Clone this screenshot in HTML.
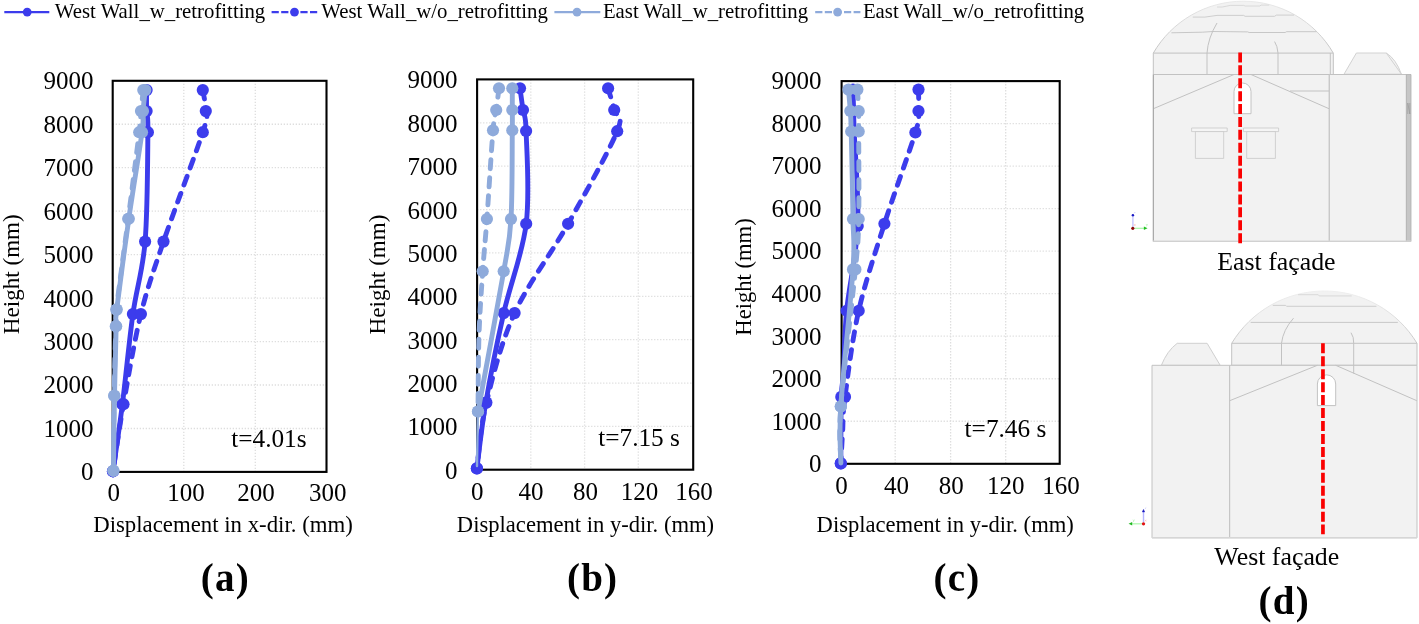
<!DOCTYPE html>
<html><head><meta charset="utf-8"><title>Figure</title>
<style>
html,body{margin:0;padding:0;background:#fff;}
body{width:1419px;height:624px;overflow:hidden;font-family:"Liberation Serif",serif;}
svg{display:block;position:absolute;left:0;top:0;will-change:transform;opacity:0.9999;}
svg text{font-family:"Liberation Serif",serif;fill:#000;}
</style></head><body>
<svg width="1419" height="624" viewBox="0 0 1419 624">
<rect width="1419" height="624" fill="#fff"/>
<g id="legend">
<line x1="4.3" y1="12.1" x2="49.3" y2="12.1" stroke="#3c3cec" stroke-width="2.4"/><circle cx="27.2" cy="12.1" r="4.4" fill="#3c3cec"/><text transform="translate(54.80 17.6) scale(1.035 1)" font-size="20.1">West Wall_w_retrofitting</text>
<line x1="271.6" y1="12.1" x2="317.2" y2="12.1" stroke="#3c3cec" stroke-width="2.4" stroke-dasharray="7.2 2.4"/><circle cx="294.5" cy="12.1" r="4.4" fill="#3c3cec"/><text transform="translate(321.30 17.6) scale(1.035 1)" font-size="20.1">West Wall_w/o_retrofitting</text>
<line x1="554.4" y1="12.1" x2="600.3" y2="12.1" stroke="#8eaadb" stroke-width="2.4"/><circle cx="577.0" cy="12.1" r="4.4" fill="#8eaadb"/><text transform="translate(602.90 17.6) scale(1.035 1)" font-size="20.1">East Wall_w_retrofitting</text>
<line x1="815.2" y1="12.1" x2="860.4" y2="12.1" stroke="#8eaadb" stroke-width="2.4" stroke-dasharray="7.2 2.4"/><circle cx="837.6" cy="12.1" r="4.4" fill="#8eaadb"/><text transform="translate(862.90 17.6) scale(1.035 1)" font-size="20.1">East Wall_w/o_retrofitting</text>
</g>
<g id="chart-a">
<line x1="183.80" y1="80.80" x2="183.80" y2="471.90" stroke="#dedede" stroke-width="1.3" stroke-dasharray="1.3 1.7"/>
<line x1="255.30" y1="80.80" x2="255.30" y2="471.90" stroke="#dedede" stroke-width="1.3" stroke-dasharray="1.3 1.7"/>
<line x1="112.70" y1="124.26" x2="326.50" y2="124.26" stroke="#dedede" stroke-width="1.3" stroke-dasharray="1.3 1.7"/>
<line x1="112.70" y1="167.72" x2="326.50" y2="167.72" stroke="#dedede" stroke-width="1.3" stroke-dasharray="1.3 1.7"/>
<line x1="112.70" y1="211.18" x2="326.50" y2="211.18" stroke="#dedede" stroke-width="1.3" stroke-dasharray="1.3 1.7"/>
<line x1="112.70" y1="254.64" x2="326.50" y2="254.64" stroke="#dedede" stroke-width="1.3" stroke-dasharray="1.3 1.7"/>
<line x1="112.70" y1="298.10" x2="326.50" y2="298.10" stroke="#dedede" stroke-width="1.3" stroke-dasharray="1.3 1.7"/>
<line x1="112.70" y1="341.56" x2="326.50" y2="341.56" stroke="#dedede" stroke-width="1.3" stroke-dasharray="1.3 1.7"/>
<line x1="112.70" y1="385.02" x2="326.50" y2="385.02" stroke="#dedede" stroke-width="1.3" stroke-dasharray="1.3 1.7"/>
<line x1="112.70" y1="428.48" x2="326.50" y2="428.48" stroke="#dedede" stroke-width="1.3" stroke-dasharray="1.3 1.7"/>
<rect x="112.70" y="80.80" width="213.80" height="391.10" fill="none" stroke="#000" stroke-width="2.1"/>
<text x="93.60" y="89.20" font-size="25.00" text-anchor="end" font-weight="normal">9000</text>
<text x="93.60" y="132.66" font-size="25.00" text-anchor="end" font-weight="normal">8000</text>
<text x="93.60" y="176.12" font-size="25.00" text-anchor="end" font-weight="normal">7000</text>
<text x="93.60" y="219.58" font-size="25.00" text-anchor="end" font-weight="normal">6000</text>
<text x="93.60" y="263.04" font-size="25.00" text-anchor="end" font-weight="normal">5000</text>
<text x="93.60" y="306.50" font-size="25.00" text-anchor="end" font-weight="normal">4000</text>
<text x="93.60" y="349.96" font-size="25.00" text-anchor="end" font-weight="normal">3000</text>
<text x="93.60" y="393.42" font-size="25.00" text-anchor="end" font-weight="normal">2000</text>
<text x="93.60" y="436.88" font-size="25.00" text-anchor="end" font-weight="normal">1000</text>
<text x="93.60" y="480.34" font-size="25.00" text-anchor="end" font-weight="normal">0</text>
<text x="113.70" y="500.70" font-size="25.00" text-anchor="middle" font-weight="normal">0</text>
<text x="186.00" y="500.70" font-size="25.00" text-anchor="middle" font-weight="normal">100</text>
<text x="256.10" y="500.70" font-size="25.00" text-anchor="middle" font-weight="normal">200</text>
<text x="327.70" y="500.70" font-size="25.00" text-anchor="middle" font-weight="normal">300</text>
<path d="M146.60 90.10 C146.60 93.60 146.38 104.08 146.60 111.10 C146.82 118.12 148.15 110.45 147.90 132.20 C147.65 153.95 147.60 211.28 145.10 241.60 C142.60 271.92 136.68 287.00 132.90 314.10 C129.12 341.20 125.72 378.00 122.40 404.20 C119.08 430.40 114.57 460.12 113.00 471.30" fill="none" stroke="#3c3cec" stroke-width="4.90" stroke-linecap="round" stroke-linejoin="round"/>
<circle cx="146.60" cy="90.10" r="6.10" fill="#3c3cec"/>
<circle cx="146.60" cy="111.10" r="6.10" fill="#3c3cec"/>
<circle cx="147.90" cy="132.20" r="6.10" fill="#3c3cec"/>
<circle cx="145.10" cy="241.60" r="6.10" fill="#3c3cec"/>
<circle cx="132.90" cy="314.10" r="6.10" fill="#3c3cec"/>
<circle cx="122.40" cy="404.20" r="6.10" fill="#3c3cec"/>
<circle cx="113.00" cy="471.30" r="6.10" fill="#3c3cec"/>
<path d="M202.80 90.10 C203.30 93.60 205.80 104.08 205.80 111.10 C205.80 118.12 209.85 110.45 202.80 132.20 C195.75 153.95 173.82 211.28 163.50 241.60 C153.18 271.92 147.57 287.00 140.90 314.10 C134.23 341.20 128.15 378.00 123.50 404.20 C118.85 430.40 114.75 460.12 113.00 471.30" fill="none" stroke="#3c3cec" stroke-width="4.90" stroke-linecap="round" stroke-linejoin="round" stroke-dasharray="9 9"/>
<circle cx="202.80" cy="90.10" r="6.10" fill="#3c3cec"/>
<circle cx="205.80" cy="111.10" r="6.10" fill="#3c3cec"/>
<circle cx="202.80" cy="132.20" r="6.10" fill="#3c3cec"/>
<circle cx="163.50" cy="241.60" r="6.10" fill="#3c3cec"/>
<circle cx="140.90" cy="314.10" r="6.10" fill="#3c3cec"/>
<circle cx="123.50" cy="404.20" r="6.10" fill="#3c3cec"/>
<circle cx="113.00" cy="471.30" r="6.10" fill="#3c3cec"/>
<path d="M145.30 90.10 C144.92 93.60 143.55 104.08 143.00 111.10 C142.45 118.12 144.37 114.25 142.00 132.20 C139.63 150.15 133.02 189.23 128.80 218.80 C124.58 248.37 118.80 291.70 116.70 309.60 C114.60 327.50 116.57 311.83 116.20 326.20 C115.83 340.57 114.97 371.70 114.50 395.80 C114.03 419.90 113.58 458.30 113.40 470.80" fill="none" stroke="#8eaadb" stroke-width="4.90" stroke-linecap="round" stroke-linejoin="round"/>
<circle cx="145.30" cy="90.10" r="6.10" fill="#8eaadb"/>
<circle cx="143.00" cy="111.10" r="6.10" fill="#8eaadb"/>
<circle cx="142.00" cy="132.20" r="6.10" fill="#8eaadb"/>
<circle cx="128.80" cy="218.80" r="6.10" fill="#8eaadb"/>
<circle cx="116.70" cy="309.60" r="6.10" fill="#8eaadb"/>
<circle cx="116.20" cy="326.20" r="6.10" fill="#8eaadb"/>
<circle cx="114.50" cy="395.80" r="6.10" fill="#8eaadb"/>
<circle cx="113.40" cy="470.80" r="6.10" fill="#8eaadb"/>
<path d="M143.30 90.10 C142.92 93.60 141.68 104.08 141.00 111.10 C140.32 118.12 141.33 114.25 139.20 132.20 C137.07 150.15 132.02 189.23 128.20 218.80 C124.38 248.37 118.37 291.70 116.30 309.60 C114.23 327.50 116.17 311.83 115.80 326.20 C115.43 340.57 114.50 371.70 114.10 395.80 C113.70 419.90 113.52 458.30 113.40 470.80" fill="none" stroke="#8eaadb" stroke-width="4.90" stroke-linecap="round" stroke-linejoin="round" stroke-dasharray="9 9"/>
<circle cx="143.30" cy="90.10" r="6.10" fill="#8eaadb"/>
<circle cx="141.00" cy="111.10" r="6.10" fill="#8eaadb"/>
<circle cx="139.20" cy="132.20" r="6.10" fill="#8eaadb"/>
<circle cx="128.20" cy="218.80" r="6.10" fill="#8eaadb"/>
<circle cx="116.30" cy="309.60" r="6.10" fill="#8eaadb"/>
<circle cx="115.80" cy="326.20" r="6.10" fill="#8eaadb"/>
<circle cx="114.10" cy="395.80" r="6.10" fill="#8eaadb"/>
<circle cx="113.40" cy="470.80" r="6.10" fill="#8eaadb"/>
<text x="231.20" y="447.10" font-size="25.30" text-anchor="start" font-weight="normal">t=4.01s</text>
<text x="223.00" y="531.70" font-size="22.80" text-anchor="middle" font-weight="normal">Displacement in x-dir. (mm)</text>
<text transform="translate(19.20 274.20) rotate(-90)" font-size="23.10" text-anchor="middle">Height (mm)</text>
<text x="225.30" y="591.30" font-size="39.00" text-anchor="middle" font-weight="bold" letter-spacing="1.2">(a)</text>
</g>
<g id="chart-b">
<line x1="530.80" y1="79.40" x2="530.80" y2="469.70" stroke="#dedede" stroke-width="1.3" stroke-dasharray="1.3 1.7"/>
<line x1="584.60" y1="79.40" x2="584.60" y2="469.70" stroke="#dedede" stroke-width="1.3" stroke-dasharray="1.3 1.7"/>
<line x1="638.30" y1="79.40" x2="638.30" y2="469.70" stroke="#dedede" stroke-width="1.3" stroke-dasharray="1.3 1.7"/>
<line x1="477.10" y1="122.78" x2="693.20" y2="122.78" stroke="#dedede" stroke-width="1.3" stroke-dasharray="1.3 1.7"/>
<line x1="477.10" y1="166.16" x2="693.20" y2="166.16" stroke="#dedede" stroke-width="1.3" stroke-dasharray="1.3 1.7"/>
<line x1="477.10" y1="209.54" x2="693.20" y2="209.54" stroke="#dedede" stroke-width="1.3" stroke-dasharray="1.3 1.7"/>
<line x1="477.10" y1="252.92" x2="693.20" y2="252.92" stroke="#dedede" stroke-width="1.3" stroke-dasharray="1.3 1.7"/>
<line x1="477.10" y1="296.30" x2="693.20" y2="296.30" stroke="#dedede" stroke-width="1.3" stroke-dasharray="1.3 1.7"/>
<line x1="477.10" y1="339.68" x2="693.20" y2="339.68" stroke="#dedede" stroke-width="1.3" stroke-dasharray="1.3 1.7"/>
<line x1="477.10" y1="383.06" x2="693.20" y2="383.06" stroke="#dedede" stroke-width="1.3" stroke-dasharray="1.3 1.7"/>
<line x1="477.10" y1="426.44" x2="693.20" y2="426.44" stroke="#dedede" stroke-width="1.3" stroke-dasharray="1.3 1.7"/>
<rect x="477.10" y="79.40" width="216.10" height="390.30" fill="none" stroke="#000" stroke-width="2.1"/>
<text x="457.60" y="88.40" font-size="25.00" text-anchor="end" font-weight="normal">9000</text>
<text x="457.60" y="131.78" font-size="25.00" text-anchor="end" font-weight="normal">8000</text>
<text x="457.60" y="175.16" font-size="25.00" text-anchor="end" font-weight="normal">7000</text>
<text x="457.60" y="218.54" font-size="25.00" text-anchor="end" font-weight="normal">6000</text>
<text x="457.60" y="261.92" font-size="25.00" text-anchor="end" font-weight="normal">5000</text>
<text x="457.60" y="305.30" font-size="25.00" text-anchor="end" font-weight="normal">4000</text>
<text x="457.60" y="348.68" font-size="25.00" text-anchor="end" font-weight="normal">3000</text>
<text x="457.60" y="392.06" font-size="25.00" text-anchor="end" font-weight="normal">2000</text>
<text x="457.60" y="435.44" font-size="25.00" text-anchor="end" font-weight="normal">1000</text>
<text x="457.60" y="478.82" font-size="25.00" text-anchor="end" font-weight="normal">0</text>
<text x="477.30" y="499.80" font-size="25.00" text-anchor="middle" font-weight="normal">0</text>
<text x="531.00" y="499.80" font-size="25.00" text-anchor="middle" font-weight="normal">40</text>
<text x="585.40" y="499.80" font-size="25.00" text-anchor="middle" font-weight="normal">80</text>
<text x="639.60" y="499.80" font-size="25.00" text-anchor="middle" font-weight="normal">120</text>
<text x="694.00" y="499.80" font-size="25.00" text-anchor="middle" font-weight="normal">160</text>
<path d="M520.00 88.30 C520.50 91.92 521.98 102.88 523.00 110.00 C524.02 117.12 525.57 112.03 526.10 131.00 C526.63 149.97 529.93 193.45 526.20 223.80 C522.47 254.15 510.43 283.30 503.70 313.10 C496.97 342.90 490.27 376.72 485.80 402.60 C481.33 428.48 478.38 457.43 476.90 468.40" fill="none" stroke="#3c3cec" stroke-width="4.90" stroke-linecap="round" stroke-linejoin="round"/>
<circle cx="520.00" cy="88.30" r="6.10" fill="#3c3cec"/>
<circle cx="523.00" cy="110.00" r="6.10" fill="#3c3cec"/>
<circle cx="526.10" cy="131.00" r="6.10" fill="#3c3cec"/>
<circle cx="526.20" cy="223.80" r="6.10" fill="#3c3cec"/>
<circle cx="503.70" cy="313.10" r="6.10" fill="#3c3cec"/>
<circle cx="485.80" cy="402.60" r="6.10" fill="#3c3cec"/>
<circle cx="476.90" cy="468.40" r="6.10" fill="#3c3cec"/>
<path d="M608.10 88.30 C609.12 91.92 612.68 102.85 614.20 110.00 C615.72 117.15 624.88 112.23 617.20 131.20 C609.52 150.17 585.20 193.48 568.10 223.80 C551.00 254.12 528.22 283.30 514.60 313.10 C500.98 342.90 492.68 376.72 486.40 402.60 C480.12 428.48 478.48 457.43 476.90 468.40" fill="none" stroke="#3c3cec" stroke-width="4.90" stroke-linecap="round" stroke-linejoin="round" stroke-dasharray="9 9"/>
<circle cx="608.10" cy="88.30" r="6.10" fill="#3c3cec"/>
<circle cx="614.20" cy="110.00" r="6.10" fill="#3c3cec"/>
<circle cx="617.20" cy="131.20" r="6.10" fill="#3c3cec"/>
<circle cx="568.10" cy="223.80" r="6.10" fill="#3c3cec"/>
<circle cx="514.60" cy="313.10" r="6.10" fill="#3c3cec"/>
<circle cx="486.40" cy="402.60" r="6.10" fill="#3c3cec"/>
<circle cx="476.90" cy="468.40" r="6.10" fill="#3c3cec"/>
<path d="M512.30 88.30 C512.30 91.92 512.30 103.00 512.30 110.00 C512.30 117.00 512.52 112.13 512.30 130.30 C512.08 148.47 512.43 195.50 511.00 219.00 C509.57 242.50 509.20 239.22 503.70 271.30 C498.20 303.38 482.28 388.13 478.00 411.50" fill="none" stroke="#8eaadb" stroke-width="4.90" stroke-linecap="round" stroke-linejoin="round"/>
<path d="M477.80 411.50 L477.00 466.00" fill="none" stroke="#8eaadb" stroke-width="2.40" stroke-linecap="round"/>
<circle cx="512.30" cy="88.30" r="6.10" fill="#8eaadb"/>
<circle cx="512.30" cy="110.00" r="6.10" fill="#8eaadb"/>
<circle cx="512.30" cy="130.30" r="6.10" fill="#8eaadb"/>
<circle cx="511.00" cy="219.00" r="6.10" fill="#8eaadb"/>
<circle cx="503.70" cy="271.30" r="6.10" fill="#8eaadb"/>
<circle cx="478.00" cy="411.50" r="6.10" fill="#8eaadb"/>
<path d="M499.00 88.30 C498.53 91.92 497.20 103.00 496.20 110.00 C495.20 117.00 494.55 112.13 493.00 130.30 C491.45 148.47 488.62 195.50 486.90 219.00 C485.18 242.50 484.02 251.97 482.70 271.30 C481.38 290.63 479.78 311.63 479.00 335.00 C478.22 358.37 478.17 398.75 478.00 411.50" fill="none" stroke="#8eaadb" stroke-width="4.90" stroke-linecap="round" stroke-linejoin="round" stroke-dasharray="9 9"/>
<circle cx="499.00" cy="88.30" r="6.10" fill="#8eaadb"/>
<circle cx="496.20" cy="110.00" r="6.10" fill="#8eaadb"/>
<circle cx="493.00" cy="130.30" r="6.10" fill="#8eaadb"/>
<circle cx="486.90" cy="219.00" r="6.10" fill="#8eaadb"/>
<circle cx="482.70" cy="271.30" r="6.10" fill="#8eaadb"/>
<circle cx="478.00" cy="411.50" r="6.10" fill="#8eaadb"/>
<text x="598.20" y="446.20" font-size="25.30" text-anchor="start" font-weight="normal">t=7.15 s</text>
<text x="585.50" y="532.30" font-size="22.60" text-anchor="middle" font-weight="normal">Displacement in y-dir. (mm)</text>
<text transform="translate(384.50 274.50) rotate(-90)" font-size="23.10" text-anchor="middle">Height (mm)</text>
<text x="592.60" y="590.80" font-size="39.00" text-anchor="middle" font-weight="bold" letter-spacing="1.2">(b)</text>
</g>
<g id="chart-c">
<line x1="895.20" y1="81.10" x2="895.20" y2="463.80" stroke="#dedede" stroke-width="1.3" stroke-dasharray="1.3 1.7"/>
<line x1="950.60" y1="81.10" x2="950.60" y2="463.80" stroke="#dedede" stroke-width="1.3" stroke-dasharray="1.3 1.7"/>
<line x1="1005.70" y1="81.10" x2="1005.70" y2="463.80" stroke="#dedede" stroke-width="1.3" stroke-dasharray="1.3 1.7"/>
<line x1="841.60" y1="123.62" x2="1059.70" y2="123.62" stroke="#dedede" stroke-width="1.3" stroke-dasharray="1.3 1.7"/>
<line x1="841.60" y1="166.14" x2="1059.70" y2="166.14" stroke="#dedede" stroke-width="1.3" stroke-dasharray="1.3 1.7"/>
<line x1="841.60" y1="208.66" x2="1059.70" y2="208.66" stroke="#dedede" stroke-width="1.3" stroke-dasharray="1.3 1.7"/>
<line x1="841.60" y1="251.18" x2="1059.70" y2="251.18" stroke="#dedede" stroke-width="1.3" stroke-dasharray="1.3 1.7"/>
<line x1="841.60" y1="293.70" x2="1059.70" y2="293.70" stroke="#dedede" stroke-width="1.3" stroke-dasharray="1.3 1.7"/>
<line x1="841.60" y1="336.22" x2="1059.70" y2="336.22" stroke="#dedede" stroke-width="1.3" stroke-dasharray="1.3 1.7"/>
<line x1="841.60" y1="378.74" x2="1059.70" y2="378.74" stroke="#dedede" stroke-width="1.3" stroke-dasharray="1.3 1.7"/>
<line x1="841.60" y1="421.26" x2="1059.70" y2="421.26" stroke="#dedede" stroke-width="1.3" stroke-dasharray="1.3 1.7"/>
<rect x="841.60" y="81.10" width="218.10" height="382.70" fill="none" stroke="#000" stroke-width="2.1"/>
<text x="821.60" y="89.40" font-size="25.00" text-anchor="end" font-weight="normal">9000</text>
<text x="821.60" y="131.92" font-size="25.00" text-anchor="end" font-weight="normal">8000</text>
<text x="821.60" y="174.44" font-size="25.00" text-anchor="end" font-weight="normal">7000</text>
<text x="821.60" y="216.96" font-size="25.00" text-anchor="end" font-weight="normal">6000</text>
<text x="821.60" y="259.48" font-size="25.00" text-anchor="end" font-weight="normal">5000</text>
<text x="821.60" y="302.00" font-size="25.00" text-anchor="end" font-weight="normal">4000</text>
<text x="821.60" y="344.52" font-size="25.00" text-anchor="end" font-weight="normal">3000</text>
<text x="821.60" y="387.04" font-size="25.00" text-anchor="end" font-weight="normal">2000</text>
<text x="821.60" y="429.56" font-size="25.00" text-anchor="end" font-weight="normal">1000</text>
<text x="821.60" y="472.08" font-size="25.00" text-anchor="end" font-weight="normal">0</text>
<text x="841.40" y="493.70" font-size="25.00" text-anchor="middle" font-weight="normal">0</text>
<text x="896.40" y="493.70" font-size="25.00" text-anchor="middle" font-weight="normal">40</text>
<text x="951.30" y="493.70" font-size="25.00" text-anchor="middle" font-weight="normal">80</text>
<text x="1005.80" y="493.70" font-size="25.00" text-anchor="middle" font-weight="normal">120</text>
<text x="1061.00" y="493.70" font-size="25.00" text-anchor="middle" font-weight="normal">160</text>
<path d="M853.00 89.60 C853.10 93.17 853.40 103.97 853.60 111.00 C853.80 118.03 853.52 112.63 854.20 131.80 C854.88 150.97 858.97 196.17 857.70 226.00 C856.43 255.83 848.95 286.47 846.60 310.80 C844.25 335.13 844.48 357.65 843.60 372.00 C842.72 386.35 841.77 381.67 841.30 396.90 C840.83 412.13 840.88 452.32 840.80 463.40" fill="none" stroke="#3c3cec" stroke-width="4.90" stroke-linecap="round" stroke-linejoin="round"/>
<circle cx="853.00" cy="89.60" r="6.10" fill="#3c3cec"/>
<circle cx="853.60" cy="111.00" r="6.10" fill="#3c3cec"/>
<circle cx="854.20" cy="131.80" r="6.10" fill="#3c3cec"/>
<circle cx="857.70" cy="226.00" r="6.10" fill="#3c3cec"/>
<circle cx="846.60" cy="310.80" r="6.10" fill="#3c3cec"/>
<circle cx="841.30" cy="396.90" r="6.10" fill="#3c3cec"/>
<circle cx="840.80" cy="463.40" r="6.10" fill="#3c3cec"/>
<path d="M918.50 89.60 C918.50 93.17 919.02 103.85 918.50 111.00 C917.98 118.15 921.08 113.70 915.40 132.50 C909.72 151.30 893.85 194.08 884.40 223.80 C874.95 253.52 865.27 281.95 858.70 310.80 C852.13 339.65 847.68 376.70 845.00 396.90 C842.32 417.10 843.30 420.92 842.60 432.00 C841.90 443.08 841.10 458.17 840.80 463.40" fill="none" stroke="#3c3cec" stroke-width="4.90" stroke-linecap="round" stroke-linejoin="round" stroke-dasharray="9 9"/>
<circle cx="918.50" cy="89.60" r="6.10" fill="#3c3cec"/>
<circle cx="918.50" cy="111.00" r="6.10" fill="#3c3cec"/>
<circle cx="915.40" cy="132.50" r="6.10" fill="#3c3cec"/>
<circle cx="884.40" cy="223.80" r="6.10" fill="#3c3cec"/>
<circle cx="858.70" cy="310.80" r="6.10" fill="#3c3cec"/>
<circle cx="845.00" cy="396.90" r="6.10" fill="#3c3cec"/>
<circle cx="840.80" cy="463.40" r="6.10" fill="#3c3cec"/>
<path d="M848.50 89.60 C848.80 93.17 849.85 104.02 850.30 111.00 C850.75 117.98 850.75 113.50 851.20 131.50 C851.65 149.50 852.70 196.02 853.00 219.00 C853.30 241.98 855.03 238.15 853.00 269.40 C850.97 300.65 842.82 374.23 840.80 406.50 C838.78 438.77 840.88 453.58 840.90 463.00" fill="none" stroke="#8eaadb" stroke-width="4.90" stroke-linecap="round" stroke-linejoin="round"/>
<circle cx="848.50" cy="89.60" r="6.10" fill="#8eaadb"/>
<circle cx="850.30" cy="111.00" r="6.10" fill="#8eaadb"/>
<circle cx="851.20" cy="131.50" r="6.10" fill="#8eaadb"/>
<circle cx="853.00" cy="219.00" r="6.10" fill="#8eaadb"/>
<circle cx="853.00" cy="269.40" r="6.10" fill="#8eaadb"/>
<circle cx="840.80" cy="406.50" r="6.10" fill="#8eaadb"/>
<path d="M857.40 89.60 C857.62 93.17 858.48 104.02 858.70 111.00 C858.92 117.98 858.70 113.50 858.70 131.50 C858.70 149.50 859.25 196.02 858.70 219.00 C858.15 241.98 858.38 238.15 855.40 269.40 C852.42 300.65 843.22 374.23 840.80 406.50 C838.38 438.77 840.88 453.58 840.90 463.00" fill="none" stroke="#8eaadb" stroke-width="4.90" stroke-linecap="round" stroke-linejoin="round" stroke-dasharray="9 9"/>
<circle cx="857.40" cy="89.60" r="6.10" fill="#8eaadb"/>
<circle cx="858.70" cy="111.00" r="6.10" fill="#8eaadb"/>
<circle cx="858.70" cy="131.50" r="6.10" fill="#8eaadb"/>
<circle cx="858.70" cy="219.00" r="6.10" fill="#8eaadb"/>
<circle cx="855.40" cy="269.40" r="6.10" fill="#8eaadb"/>
<circle cx="840.80" cy="406.50" r="6.10" fill="#8eaadb"/>
<text x="964.60" y="437.20" font-size="25.30" text-anchor="start" font-weight="normal">t=7.46 s</text>
<text x="945.20" y="531.80" font-size="22.60" text-anchor="middle" font-weight="normal">Displacement in y-dir. (mm)</text>
<text transform="translate(751.00 277.00) rotate(-90)" font-size="22.60" text-anchor="middle">Height (mm)</text>
<text x="957.00" y="591.40" font-size="39.00" text-anchor="middle" font-weight="bold" letter-spacing="1.2">(c)</text>
</g>
<g id="facades">
<g fill="#f2f2f2" stroke="#c2c2c2" stroke-width="1" stroke-linejoin="round">
<!-- EAST -->
<defs>
<linearGradient id="gE" gradientUnits="userSpaceOnUse" x1="0" y1="1" x2="0" y2="53"><stop offset="0" stop-color="#e9e9e9"/><stop offset="0.35" stop-color="#dcdcdc"/><stop offset="1" stop-color="#c4c4c4"/></linearGradient>
<linearGradient id="gW" gradientUnits="userSpaceOnUse" x1="0" y1="291" x2="0" y2="343"><stop offset="0" stop-color="#efefef"/><stop offset="0.4" stop-color="#e2e2e2"/><stop offset="1" stop-color="#c8c8c8"/></linearGradient>
</defs>
<path d="M1153.3 53.1 A104 104 0 0 1 1333.3 53.1 Z" stroke="none"/><path d="M1153.3 53.1 A104 104 0 0 1 1333.3 53.1" fill="none" stroke="url(#gE)"/>
<rect x="1153.3" y="53.1" width="180" height="21.4"/>
<path d="M1344 74.2 L1356.4 53 L1386.3 53 Q1396 59 1401.4 74.2 Z" stroke="#d2d2d2"/><path d="M1386.3 53 L1401.4 74.2" fill="none" stroke="#d2d2d2"/>
<rect x="1153.3" y="74.5" width="176" height="167"/>
<rect x="1329.3" y="74.5" width="77.2" height="167"/>
<rect x="1406.3" y="74.5" width="4.7" height="167" fill="#c6c6c6" stroke="#b0b0b0" stroke-width="0.8"/><path d="M1407.8 103 V114 M1407.8 103 L1409.8 114 V103" fill="none" stroke="#9a9a9a" stroke-width="0.7"/>
<g fill="none">
<path d="M1330.3 53.1 V74.5"/>
<path d="M1171.4 32.8 L1202.2 32.2 L1212.9 31.5 L1247.7 31.9 L1249.1 32.5 L1285.2 32.5 L1286.6 31.7 L1316.7 31.7" stroke-width="0.9"/>
<path d="M1192.8 17.1 L1204.9 17.1 L1217 15.4 L1243.7 15.4 L1245.1 16.3 L1274.5 16.3 L1276.5 15.1 L1294 15.1" stroke-width="0.9" stroke="#cacaca"/>
<path d="M1217 7 L1222.3 7 L1230.3 5.4 L1243.7 5.4 L1245.1 6 L1259.8 6 L1261.1 5.1 L1269.2 5.1" stroke="#d6d6d6" stroke-width="0.9"/>
<path d="M1207 74.5 V53.1 Q1208 38 1217 23"/>
<path d="M1278 74.5 V53.1 Q1277.5 46 1274.6 41.6"/>
<path d="M1234 74.5 L1153.4 108.7"/>
<path d="M1251 74.5 L1329 108.7"/>
<path d="M1290 91 H1329"/>
</g>
<path d="M1234 113.7 V91.5 A8.5 8.5 0 0 1 1251 91.5 V113.7 Z" fill="#fff"/>
<rect x="1191.6" y="128" width="35.6" height="3.6" stroke-width="0.8" stroke="#c8c8c8" fill="#f5f5f5"/>
<rect x="1195.4" y="131.6" width="28.3" height="26.8" stroke-width="0.8" stroke="#c8c8c8"/>
<rect x="1243.4" y="128" width="35.2" height="3.6" stroke-width="0.8" stroke="#c8c8c8" fill="#f5f5f5"/>
<rect x="1246.7" y="131.6" width="28.7" height="26.8" stroke-width="0.8" stroke="#c8c8c8"/>
<!-- WEST -->
<path d="M1231.7 343.3 A108.2 108.2 0 0 1 1417 343.3 Z" stroke="none"/><path d="M1231.7 343.3 A108.2 108.2 0 0 1 1417 343.3" fill="none" stroke="url(#gW)"/>
<rect x="1231.7" y="343.3" width="185.3" height="22"/>
<path d="M1161.4 365.3 Q1167 351 1177.2 343.3 L1207.1 343.3 L1220.2 365.3 Z" stroke="#d0d0d0"/>
<rect x="1152" y="365.3" width="77.7" height="172.6"/>
<rect x="1229.7" y="365.3" width="187.3" height="172.6"/>
<g fill="none">
<path d="M1250.7 322.4 H1397.8" stroke-width="0.9"/>
<path d="M1272.8 305.4 L1285.7 305.4 L1286.6 306.3 L1376.4 306.3" stroke-width="0.9" stroke="#cacaca"/>
<path d="M1298 294.7 L1318.2 294.7 L1319.2 295.9 L1351.8 295.9" stroke="#d6d6d6" stroke-width="0.9"/>
<path d="M1281.5 365.3 V343.3 Q1283 330 1293.5 318.2"/>
<path d="M1353.7 373.5 V343.3 Q1354 337 1351 332.7"/>
<path d="M1317.4 365.3 L1229.7 400.7"/>
<path d="M1335.7 365.3 L1416.8 400.7"/>
</g>
<path d="M1317.4 405.6 V384 A9.15 9.15 0 0 1 1335.7 384 V405.6 Z" fill="#fff"/>
</g>
<path d="M1153.4 74.5 V241.6" stroke="#a8a8a8" stroke-width="1.1" fill="none"/>
<path d="M1153 241.1 H1411" stroke="#d6d6d6" stroke-width="1.3" fill="none"/>
<path d="M1152 537.7 H1417" stroke="#d6d6d6" stroke-width="1.3" fill="none"/>
<!-- red dashed lines -->
<line x1="1240.15" y1="52.4" x2="1240.15" y2="243.2" stroke="#fa0000" stroke-width="3.7" stroke-dasharray="10 2.91"/>
<line x1="1322.95" y1="343.3" x2="1322.95" y2="534.3" stroke="#fa0000" stroke-width="3.7" stroke-dasharray="10 2.95"/>
<!-- axis triads -->
<g fill="none">
<line x1="1132.9" y1="216.5" x2="1132.9" y2="227" stroke="#c6c6ff" stroke-width="1.4"/>
<line x1="1134.3" y1="228.3" x2="1144.2" y2="228.3" stroke="#a8f8a8" stroke-width="1.2"/>
<path d="M1143.9 226.6 L1147.5 228.3 L1143.9 230 Z" fill="#22c022"/>
<circle cx="1132.9" cy="215.3" r="1.25" fill="#1616c4"/>
<path d="M1134.1 213.3 L1135.3 212" stroke="#b8b8ff" stroke-width="0.7"/>
<path d="M1134.1 224.2 L1135.4 225.8 M1135.4 224.2 L1134.1 225.8" stroke="#ffb0b0" stroke-width="0.6"/>
<path d="M1146 224 L1146.8 225.3 M1147.6 224 L1146.4 226.4" stroke="#b0f0b0" stroke-width="0.6"/>
<circle cx="1132.8" cy="228.3" r="1.6" fill="#8c0808"/>
<line x1="1143.5" y1="512" x2="1143.5" y2="522.5" stroke="#b4b4ff" stroke-width="1.4"/>
<line x1="1132" y1="523.8" x2="1142.2" y2="523.8" stroke="#b0f8b0" stroke-width="1.3"/>
<path d="M1132.2 522 L1128.6 523.8 L1132.2 525.6 Z" fill="#22b822"/>
<path d="M1143.5 509.4 L1144.7 511.9 L1142.3 511.9 Z" fill="#1818c0" stroke="#1818c0" stroke-width="0.5"/>
<path d="M1144.8 508.9 L1146.2 507.6" stroke="#b8b8ff" stroke-width="0.7"/>
<path d="M1145 519.8 L1146.3 521.4 M1146.3 519.8 L1145 521.4" stroke="#ffb8b8" stroke-width="0.6"/>
<path d="M1133 519.6 L1133.7 520.8 M1134.5 519.6 L1133.2 522" stroke="#b0f0b0" stroke-width="0.6"/>
<circle cx="1143.5" cy="523.8" r="1.65" fill="#e01414"/>
</g>
<text x="1276.4" y="270.4" font-size="25.85" text-anchor="middle">East façade</text>
<text x="1276.8" y="565.3" font-size="25.85" text-anchor="middle">West façade</text>
<text x="1284.2" y="613.8" font-size="39" text-anchor="middle" font-weight="bold" letter-spacing="1.2">(d)</text>

</g>
</svg>
</body></html>
